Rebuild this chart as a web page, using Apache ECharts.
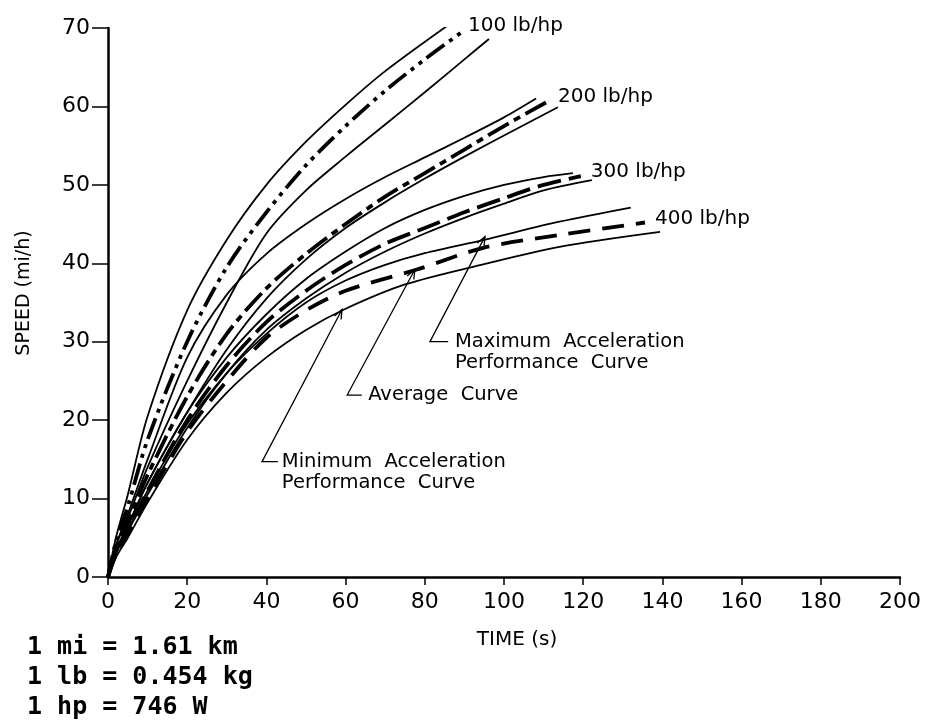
<!DOCTYPE html>
<html><head><meta charset="utf-8">
<script src="https://cdn.jsdelivr.net/npm/echarts/dist/echarts.min.js"></script>
<style>html,body{margin:0;padding:0;background:#fff}#c{width:930px;height:726px}</style>
</head><body><div id="c"></div>
<script>
// ---------- data ----------
const timeTicks = [0, 20, 40, 60, 80, 100, 120, 140, 160, 180, 200];
const speedTicks = [0, 10, 20, 30, 40, 50, 60, 70];
const groupNames = ['100 lb/hp', '200 lb/hp', '300 lb/hp', '400 lb/hp'];

// 100 lb/hp
const t100Max = [0, 2, 5, 10, 20, 30, 40, 50, 60, 70, 86];
const v100Max = [0, 5, 10.5, 20.5, 34, 43, 50, 55.5, 60.2, 64.5, 70.4];
const t100Avg = [0, 2, 5, 10, 20, 30, 40, 50, 60, 70, 80, 89.4];
const v100Avg = [0, 4.5, 9, 17.5, 30, 39.5, 46.5, 52.5, 57.5, 62, 66, 69.5];
const t100Min = [0, 2, 5, 10, 20, 30, 40, 50, 60, 70, 80, 90, 96.2];
const v100Min = [0, 4, 7.5, 14, 25, 35, 43.8, 49.3, 53.6, 57.7, 61.8, 66, 68.6];
// 200 lb/hp
const t200Max = [0, 2, 5, 10, 20, 30, 40, 50, 60, 70, 80, 90, 100, 108.1];
const v200Max = [0, 4, 8, 15, 28, 36, 41.2, 45, 48.2, 51, 53.5, 56, 58.6, 61];
const t200Avg = [0, 2, 5, 10, 20, 30, 40, 50, 60, 70, 80, 90, 100, 110.6];
const v200Avg = [0, 3.5, 7, 13, 23, 31, 36.8, 41.2, 45, 48.5, 51.5, 54.5, 57.5, 60.5];
const t200Min = [0, 2, 5, 10, 20, 30, 40, 50, 60, 70, 80, 90, 100, 113.6];
const v200Min = [0, 3.5, 6.5, 12, 21, 29, 35.5, 40.5, 44.5, 47.8, 50.8, 53.6, 56.3, 59.9];
// 300 lb/hp
const t300Max = [0, 2, 5, 10, 20, 30, 40, 50, 60, 70, 80, 90, 100, 110, 117.4];
const v300Max = [0, 3, 6.5, 12, 21, 28, 33.5, 38, 41.5, 44.5, 46.8, 48.6, 50, 51, 51.5];
const t300Avg = [0, 2, 5, 10, 20, 30, 40, 50, 60, 70, 80, 90, 100, 110, 119.4];
const v300Avg = [0, 3, 6, 11, 20, 27, 32.5, 36.5, 39.8, 42.5, 44.5, 46.5, 48.3, 50, 51.1];
const t300Min = [0, 2, 5, 10, 20, 30, 40, 50, 60, 70, 80, 90, 100, 110, 122.2];
const v300Min = [0, 3, 5.8, 10.5, 19, 26, 31.5, 35.5, 38.8, 41.5, 43.8, 45.8, 47.6, 49.3, 50.6];
// 400 lb/hp
const t400Max = [0, 2, 5, 10, 20, 30, 40, 50, 60, 70, 80, 95, 114, 132];
const v400Max = [0, 3, 6, 11, 19.5, 26, 31, 35, 37.8, 39.8, 41.3, 43, 45.3, 47.1];
const t400Avg = [0, 2, 5, 10, 20, 30, 40, 50, 60, 78, 95, 114, 135.6];
const v400Avg = [0, 2.8, 5.5, 10, 18.5, 25, 30.5, 34, 36.5, 39.2, 42, 43.6, 45.2];
const t400Min = [0, 2, 5, 10, 20, 30, 40, 50, 60, 75, 95, 114, 139.4];
const v400Min = [0, 2.5, 5, 9.5, 17.5, 23.5, 28, 31.5, 34.2, 37.3, 39.9, 42.1, 44];

// annotation texts
const noteLines = ['1 mi = 1.61 km', '1 lb = 0.454 kg', '1 hp = 746 W'];
const annoMaxText = ['Maximum  Acceleration', 'Performance  Curve'];
const annoAvgText = ['Average  Curve'];
const annoMinText = ['Minimum  Acceleration', 'Performance  Curve'];

// ---------- build ----------
const pair = (t, v) => t.map((x, i) => [x, v[i]]);
const groups = [
  {name: groupNames[0], max: pair(t100Max, v100Max), avg: pair(t100Avg, v100Avg), min: pair(t100Min, v100Min)},
  {name: groupNames[1], max: pair(t200Max, v200Max), avg: pair(t200Avg, v200Avg), min: pair(t200Min, v200Min)},
  {name: groupNames[2], max: pair(t300Max, v300Max), avg: pair(t300Avg, v300Avg), min: pair(t300Min, v300Min)},
  {name: groupNames[3], max: pair(t400Max, v400Max), avg: pair(t400Avg, v400Avg), min: pair(t400Min, v400Min)}
];
const dashes = [[22, 6, 4, 6, 4, 6], [24, 6, 7, 6], [24, 8], [22, 12]];
const labelOffsets = [[0, -6], [6, -6], [4, -4], [4, -4]];
const FONT = '"DejaVu Sans", sans-serif';
const SMOOTH = 0.3;

const series = [];
groups.forEach((g, i) => {
  const thin = {color: '#000', width: 1.8, type: 'solid'};
  series.push({type: 'line', name: g.name + ' max', data: g.max, symbol: 'none', smooth: SMOOTH, lineStyle: thin, silent: true});
  series.push({type: 'line', name: g.name + ' min', data: g.min, symbol: 'none', smooth: SMOOTH, lineStyle: thin, silent: true});
  series.push({type: 'line', name: g.name, data: g.avg, symbol: 'none', smooth: SMOOTH,
    lineStyle: {color: '#000', width: 3.8, type: dashes[i], cap: 'butt'}, silent: true,
    endLabel: {show: true, formatter: g.name, color: '#000', fontSize: 20, fontFamily: FONT, distance: 6, offset: labelOffsets[i]}});
});

const chart = echarts.init(document.getElementById('c'), null, {renderer: 'canvas'});
chart.setOption({
  animation: false,
  backgroundColor: '#fff',
  grid: {left: 108, right: 30, top: 28, bottom: 149},
  xAxis: {type: 'value', min: timeTicks[0], max: timeTicks[timeTicks.length - 1], interval: timeTicks[1] - timeTicks[0],
    axisLine: {lineStyle: {color: '#000', width: 2.5}}, axisTick: {length: 8, lineStyle: {color: '#000', width: 1.5}},
    axisLabel: {color: '#000', fontSize: 22, fontFamily: FONT, margin: 14}, splitLine: {show: false}},
  yAxis: {type: 'value', min: speedTicks[0], max: speedTicks[speedTicks.length - 1], interval: speedTicks[1] - speedTicks[0],
    axisLine: {show: true, lineStyle: {color: '#000', width: 2.5}}, axisTick: {show: true, length: 16, lineStyle: {color: '#000', width: 1.5}},
    axisLabel: {color: '#000', fontSize: 22, fontFamily: FONT, margin: 18}, splitLine: {show: false}},
  series: series
});

// ---------- annotations (leaders positioned in data space) ----------
const annos = [
  {tip: [95.2, 43.4], elbow: [81.3, 30.0], end: [85.9, 30.0], textAt: [87.6, 30.0], lines: annoMaxText},
  {tip: [77.5, 39.2], elbow: [60.4, 23.2], end: [64.1, 23.2], textAt: [65.7, 23.2], lines: annoAvgText},
  {tip: [59.1, 34.1], elbow: [38.9, 14.7], end: [42.9, 14.7], textAt: [43.9, 14.7], lines: annoMinText}
];
const px = p => chart.convertToPixel({gridIndex: 0}, p);
const graphics = [];
annos.forEach(a => {
  const tip = px(a.tip), el = px(a.elbow), en = px(a.end), ta = px(a.textAt);
  graphics.push({type: 'polyline', shape: {points: [en, el, tip]}, style: {stroke: '#000', lineWidth: 1.3, fill: null}, silent: true});
  const dx = tip[0] - el[0], dy = tip[1] - el[1], L = Math.hypot(dx, dy), ux = dx / L, uy = dy / L;
  const ang = 22 * Math.PI / 180, hl = 10;
  const h = s => [tip[0] - hl * (ux * Math.cos(ang) - s * uy * Math.sin(ang)), tip[1] - hl * (uy * Math.cos(ang) + s * ux * Math.sin(ang))];
  graphics.push({type: 'polyline', shape: {points: [h(1), tip, h(-1)]}, style: {stroke: '#000', lineWidth: 1.3, fill: null}, silent: true});
  a.lines.forEach((s, k) => graphics.push({type: 'text', style: {text: s, x: ta[0], y: ta[1] + k * 21, fill: '#000',
    font: '19.5px ' + FONT, textAlign: 'left', textVerticalAlign: 'middle'}, silent: true}));
});
// axis titles
graphics.push({type: 'text', style: {text: 'TIME (s)', x: 517, y: 640, fill: '#000', font: '20px ' + FONT, textAlign: 'center', textVerticalAlign: 'middle'}});
graphics.push({type: 'text', rotation: Math.PI / 2, x: 24, y: 293, style: {text: 'SPEED (mi/h)', x: 0, y: 0, fill: '#000', font: '19px ' + FONT, textAlign: 'center', textVerticalAlign: 'middle'}});
// conversion notes
noteLines.forEach((s, k) => graphics.push({type: 'text', style: {text: s, x: 27, y: 647 + k * 30, fill: '#000',
  font: 'bold 25px "DejaVu Sans Mono", monospace', textAlign: 'left', textVerticalAlign: 'middle'}}));
chart.setOption({graphic: graphics});
</script></body></html>
